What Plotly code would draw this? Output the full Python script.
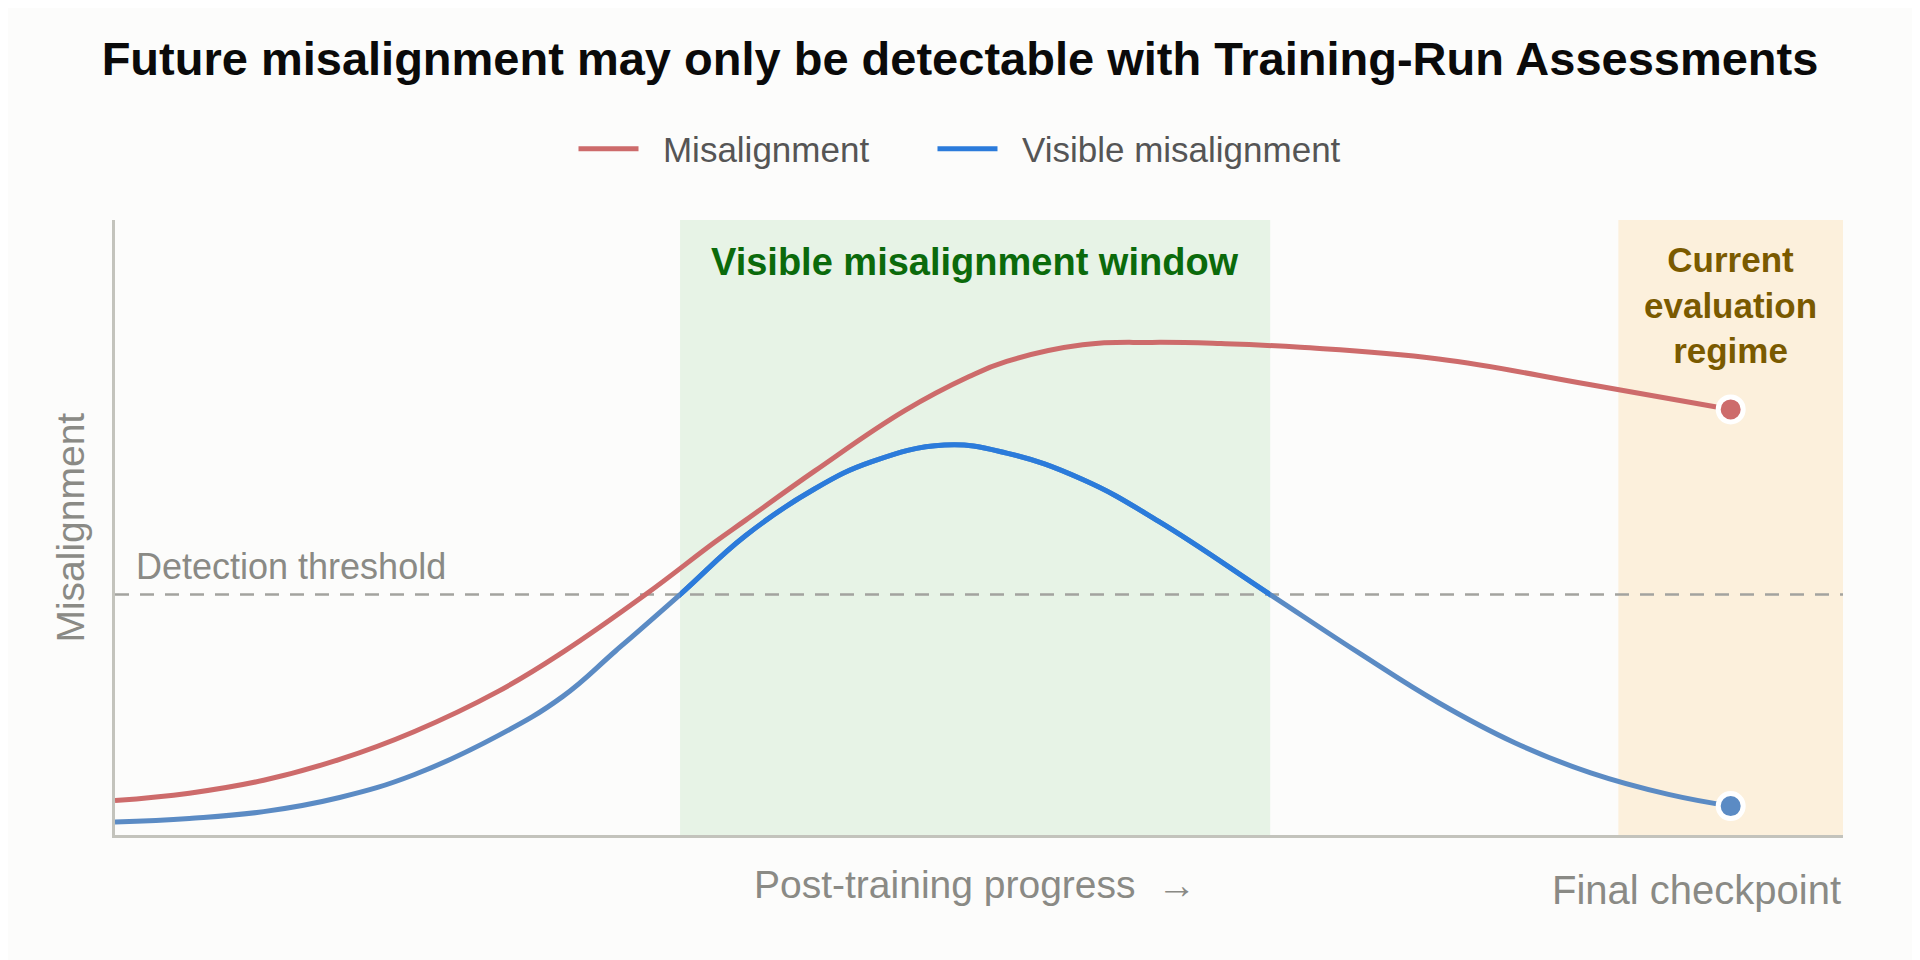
import plotly.graph_objects as go

# post-training progress (0 = start, 1 = right edge of the plot)
progress_red = [0.0, 0.043, 0.086, 0.130, 0.173, 0.222, 0.259, 0.307, 0.347, 0.365,
                0.405, 0.457, 0.494, 0.516, 0.560, 0.600, 0.640, 0.686, 0.766, 0.854, 0.935]
misalignment = [0.056, 0.068, 0.089, 0.123, 0.168, 0.234, 0.297, 0.391, 0.476, 0.512,
                0.592, 0.690, 0.745, 0.770, 0.797, 0.801, 0.799, 0.793, 0.774, 0.732, 0.692]

progress_blue = [0.0, 0.043, 0.086, 0.130, 0.173, 0.222, 0.259, 0.290, 0.327, 0.365,
                 0.405, 0.438, 0.480, 0.516, 0.560, 0.604, 0.6685, 0.721, 0.766,
                 0.810, 0.854, 0.899, 0.935]
visible = [0.021, 0.027, 0.038, 0.061, 0.098, 0.162, 0.225, 0.300, 0.391, 0.487,
           0.563, 0.607, 0.634, 0.621, 0.578, 0.510, 0.391, 0.294, 0.215,
           0.150, 0.101, 0.066, 0.047]

threshold = 0.391
window = [0.327, 0.6685]         # where visible misalignment is above threshold
eval_regime = [0.870, 1.0]

RED = "#cd6b6b"
BLUE_MUTED = "#5b8bc4"
BLUE = "#2b7bdb"
GREY = "#8a8a85"
FONT = "Liberation Sans, Arial, Helvetica, sans-serif"
NB = "\u00a0"
SPLINE = 1.2

fig = go.Figure()

# background bands
fig.add_shape(type="rect", xref="x", yref="paper", x0=window[0], x1=window[1],
              y0=0, y1=1, fillcolor="#e7f3e6", line_width=0, layer="below")
fig.add_shape(type="rect", xref="x", yref="paper", x0=eval_regime[0], x1=eval_regime[1],
              y0=0, y1=1, fillcolor="#fcf0dc", line_width=0, layer="below")

# detection threshold
fig.add_shape(type="line", xref="paper", yref="y", x0=0, x1=1, y0=threshold, y1=threshold,
              line=dict(color="#a3a39f", width=2.5, dash="14px,11px"), layer="below")

fig.add_trace(go.Scatter(x=progress_red, y=misalignment, mode="lines",
                         name=NB * 2 + "Misalignment" + NB * 6,
                         line=dict(color=RED, width=5, shape="spline", smoothing=SPLINE)))
fig.add_trace(go.Scatter(x=progress_blue, y=visible, mode="lines", showlegend=False,
                         line=dict(color=BLUE_MUTED, width=5, shape="spline", smoothing=SPLINE)))
# same curve again on an overlay subplot that only spans the window, so it gets clipped there
fig.add_trace(go.Scatter(x=progress_blue, y=visible, mode="lines", xaxis="x2", yaxis="y2",
                         name=NB * 2 + "Visible misalignment",
                         line=dict(color=BLUE, width=5, shape="spline", smoothing=SPLINE)))

# final checkpoint dots
fig.add_trace(go.Scatter(x=[progress_red[-1]], y=[misalignment[-1]], mode="markers",
                         showlegend=False,
                         marker=dict(size=25, color=RED, line=dict(color="white", width=5))))
fig.add_trace(go.Scatter(x=[progress_blue[-1]], y=[visible[-1]], mode="markers",
                         showlegend=False,
                         marker=dict(size=25, color=BLUE_MUTED, line=dict(color="white", width=5))))

fig.add_annotation(x=sum(window) / 2, y=0.932, xref="x", yref="y",
                   text="<b>Visible misalignment window</b>", showarrow=False,
                   xanchor="center", yanchor="middle",
                   font=dict(size=38, color="#0b6a0b", family=FONT))
fig.add_annotation(x=sum(eval_regime) / 2, y=0.862, xref="x", yref="y",
                   text="<b>Current<br>evaluation<br>regime</b>", showarrow=False,
                   xanchor="center", yanchor="middle",
                   font=dict(size=35, color="#7a5a00", family=FONT))
fig.add_annotation(x=0.011, y=threshold + 0.046, xref="paper", yref="y",
                   text="Detection threshold", showarrow=False,
                   xanchor="left", yanchor="middle",
                   font=dict(size=36, color=GREY, family=FONT))

fig.add_annotation(x=0.4977, y=-0.081, xref="paper", yref="paper",
                   text="Post-training progress  →", showarrow=False,
                   xanchor="center", yanchor="middle",
                   font=dict(size=39, color=GREY, family=FONT))
fig.add_annotation(x=1, y=-0.089, xref="paper", yref="paper",
                   text="Final checkpoint", showarrow=False,
                   xanchor="right", yanchor="middle",
                   font=dict(size=40, color=GREY, family=FONT))
fig.add_annotation(x=-0.026, y=0.5, xref="paper", yref="paper", textangle=-90,
                   text="Misalignment", showarrow=False,
                   xanchor="center", yanchor="middle",
                   font=dict(size=39, color=GREY, family=FONT))

# page body adds an 8px offset, margins compensate for it
fig.update_layout(
    width=1920, height=960,
    margin=dict(l=107, r=85, t=212, b=133, autoexpand=False),
    paper_bgcolor="#fcfcfb", plot_bgcolor="rgba(0,0,0,0)",
    font=dict(family=FONT),
    title=dict(text="<b>Future misalignment may only be detectable with Training-Run Assessments</b>",
               x=0.5 - 8 / 1920, xanchor="center", y=1 - 51 / 960, yanchor="middle",
               yref="container",
               font=dict(size=47, color="#0a0a0a", family=FONT)),
    legend=dict(orientation="h", x=0.5 - 8 / 1920, xref="container", xanchor="center",
                y=1 - 141 / 960, yref="container", yanchor="middle",
                font=dict(size=35, color="#555555", family=FONT),
                itemwidth=60, bgcolor="rgba(0,0,0,0)"),
    xaxis=dict(range=[0, 1], showgrid=False, zeroline=False, showticklabels=False,
               ticks="", showline=True, linecolor="#c3c3bc", linewidth=2.5),
    yaxis=dict(range=[0, 1], showgrid=False, zeroline=False, showticklabels=False,
               ticks="", showline=True, linecolor="#c3c3bc", linewidth=2.5),
    xaxis2=dict(domain=window, range=window, anchor="y2", visible=False),
    yaxis2=dict(domain=[0, 1], range=[0, 1], anchor="x2", visible=False),
)

fig.write_html("out.html")
